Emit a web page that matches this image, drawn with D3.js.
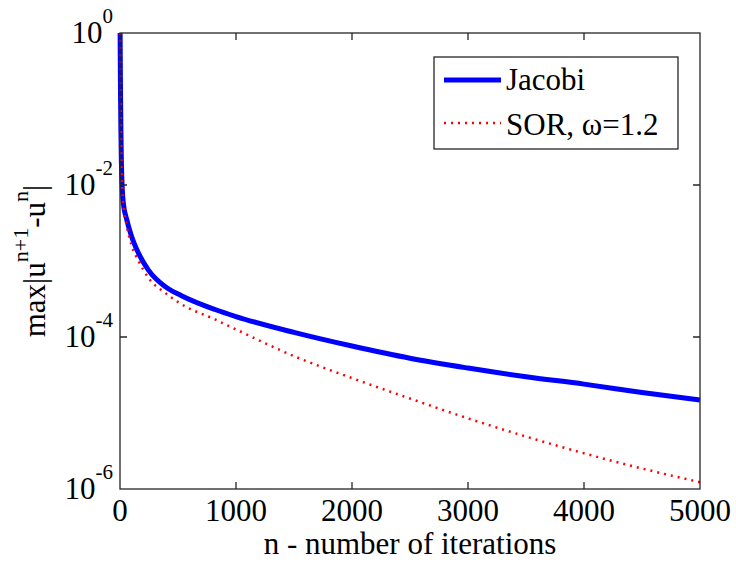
<!DOCTYPE html>
<html>
<head>
<meta charset="utf-8">
<script src="https://cdn.jsdelivr.net/npm/d3@7"></script>
</head>
<body style="margin:0">
<div id="chart"></div>
<script>
// data
const iterations = [1, 3, 5, 8, 12, 20, 30, 58, 100, 160, 245, 390, 530, 820, 1000, 1500, 2000, 2500, 3000, 3500, 4000, 4500, 5000];
const jacobi = [1, 0.32, 0.13, 0.05, 0.02, 0.0085, 0.0056, 0.0035, 0.0021, 0.00126, 0.00076, 0.00046, 0.00035, 0.00023, 0.000186, 0.000115, 0.000076, 0.0000525, 0.000039, 0.00003, 0.000024, 0.0000186, 0.0000148];
const sor = [1, 0.32, 0.13, 0.05, 0.02, 0.0085, 0.0054, 0.0029, 0.0016, 0.001, 0.0006, 0.00038, 0.00027, 0.00017, 0.000126, 0.000056, 0.0000288, 0.0000155, 0.0000085, 0.0000049, 0.00000295, 0.00000186, 0.00000123];
const xTicks = [0, 1000, 2000, 3000, 4000, 5000];
const yTicks = [1, 1e-2, 1e-4, 1e-6];

const W = 736, H = 562;
const margin = { top: 33, right: 36, bottom: 73, left: 120 };
const serif = "Liberation Serif, Times New Roman, serif";

const svg = d3.select("#chart").append("svg")
    .attr("width", W)
    .attr("height", H)
    .attr("font-family", serif);

// scales
const x = d3.scaleLinear().domain([0, 5000]).range([margin.left, W - margin.right]);
const y = d3.scaleLog().domain([1e-6, 1]).range([H - margin.bottom, margin.top]);

const x0 = x.range()[0], x1 = x.range()[1];
const y0 = y.range()[0], y1 = y.range()[1];

// x tick labels
svg.selectAll(".xlab")
    .data(xTicks)
    .enter().append("text")
    .attr("x", d => x(d))
    .attr("y", y0 + 32)
    .attr("text-anchor", "middle")
    .attr("font-size", 31)
    .text(d => d);

// y tick labels: 10 with superscript exponent
const ylab = svg.selectAll(".ylab")
    .data(yTicks)
    .enter().append("text")
    .attr("x", x0 - 7)
    .attr("y", d => y(d) + 10)
    .attr("text-anchor", "end")
    .attr("font-size", 31);
ylab.append("tspan").text("10");
ylab.append("tspan")
    .attr("dy", -20)
    .attr("font-size", 21)
    .text(d => Math.round(Math.log10(d)));

// axis titles
svg.append("text")
    .attr("x", (x0 + x1) / 2)
    .attr("y", 554)
    .attr("text-anchor", "middle")
    .attr("font-size", 31)
    .text("n - number of iterations");

const yt = svg.append("text")
    .attr("transform", "translate(45," + ((y0 + y1) / 2) + ") rotate(-90)")
    .attr("text-anchor", "middle")
    .attr("font-size", 31);
yt.append("tspan").text("max|u");
yt.append("tspan").attr("dy", -17).attr("font-size", 22).text("n+1");
yt.append("tspan").attr("dy", 17).text("-u");
yt.append("tspan").attr("dy", -17).attr("font-size", 22).text("n");
yt.append("tspan").attr("dy", 17).text("|");

// curves
const line = d3.line()
    .curve(d3.curveMonotoneX)
    .x(d => x(d[0]))
    .y(d => y(d[1]));

svg.append("path")
    .datum(iterations.map((n, i) => [n, jacobi[i]]))
    .attr("fill", "none")
    .attr("stroke", "#0000ff")
    .attr("stroke-width", 5)
    .attr("d", line);

svg.append("path")
    .datum(iterations.map((n, i) => [n, sor[i]]))
    .attr("fill", "none")
    .attr("stroke", "#ff0000")
    .attr("stroke-width", 2.5)
    .attr("stroke-dasharray", "2,5")
    .attr("d", line);

// box with inward ticks on every side
const tickLen = 7;
const frame = svg.append("g").attr("stroke", "#262626").attr("stroke-width", 1.3).attr("fill", "none");
frame.append("rect")
    .attr("x", x0).attr("y", y1)
    .attr("width", x1 - x0).attr("height", y0 - y1);
frame.selectAll(".xt")
    .data(xTicks.slice(1, -1))
    .enter().append("path")
    .attr("d", d => "M" + x(d) + "," + y0 + "v" + (-tickLen) + "M" + x(d) + "," + y1 + "v" + tickLen);
frame.selectAll(".yt")
    .data(yTicks.slice(1, -1))
    .enter().append("path")
    .attr("d", d => "M" + x0 + "," + y(d) + "h" + tickLen + "M" + x1 + "," + y(d) + "h" + (-tickLen));

// legend
const legendItems = ["Jacobi", "SOR, \u03c9=1.2"];
const lg = svg.append("g").attr("transform", "translate(434,57)");
lg.append("rect")
    .attr("width", 244)
    .attr("height", 92)
    .attr("fill", "#fff")
    .attr("stroke", "#262626")
    .attr("stroke-width", 1.3);
lg.append("line")
    .attr("x1", 10).attr("x2", 67)
    .attr("y1", 23).attr("y2", 23)
    .attr("stroke", "#0000ff")
    .attr("stroke-width", 5);
lg.append("line")
    .attr("x1", 10).attr("x2", 67)
    .attr("y1", 66).attr("y2", 66)
    .attr("stroke", "#ff0000")
    .attr("stroke-width", 2.5)
    .attr("stroke-dasharray", "2,5");
lg.selectAll(".leg")
    .data(legendItems)
    .enter().append("text")
    .attr("x", 72)
    .attr("y", (d, i) => 33 + i * 45)
    .attr("font-size", 31)
    .text(d => d);
</script>
</body>
</html>
